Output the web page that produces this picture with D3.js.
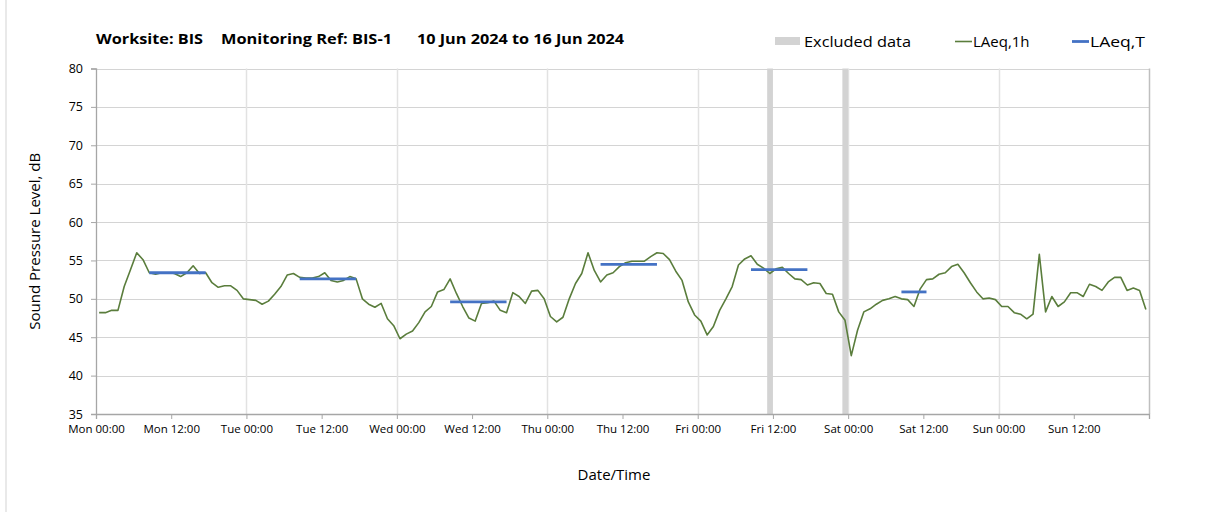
<!DOCTYPE html>
<html>
<head>
<meta charset="utf-8">
<script src="https://cdn.jsdelivr.net/npm/d3@7"></script>
<style>
  html, body { margin: 0; padding: 0; background: #fff; }
  svg { display: block; }
  text { font-family: "Open Sans", "Noto Sans", sans-serif; fill: #000; }
</style>
</head>
<body>
<svg id="chart" width="1208" height="512"></svg>
<script>
// Hourly LAeq,1h values, Mon 00:00 .. Sun 23:00 (168 hours)
const laeq1h = [
  // Mon
  48.2, 48.2, 48.5, 48.5, 51.6, 53.8, 56.0, 55.1, 53.4, 53.2, 53.4, 53.4,
  53.3, 52.9, 53.4, 54.3, 53.3, 53.4, 52.1, 51.5, 51.7, 51.7, 51.1, 50.0,
  // Tue
  49.9, 49.8, 49.3, 49.7, 50.6, 51.6, 53.1, 53.3, 52.8, 52.7, 52.7, 52.9,
  53.4, 52.4, 52.2, 52.4, 52.9, 52.6, 50.0, 49.3, 48.9, 49.4, 47.4, 46.5,
  // Wed
  44.8, 45.4, 45.8, 46.9, 48.3, 49.0, 50.9, 51.2, 52.6, 50.7, 49.0, 47.5,
  47.1, 49.4, 49.5, 49.7, 48.5, 48.2, 50.8, 50.3, 49.4, 51.0, 51.1, 50.0,
  // Thu
  47.7, 47.0, 47.6, 50.0, 52.0, 53.3, 56.0, 53.7, 52.2, 53.1, 53.4, 54.2,
  54.7, 54.9, 54.9, 54.9, 55.5, 56.0, 55.9, 55.1, 53.6, 52.4, 49.6, 47.9,
  // Fri
  47.1, 45.3, 46.4, 48.5, 50.0, 51.6, 54.4, 55.2, 55.6, 54.5, 54.0, 53.3,
  53.9, 54.1, 53.3, 52.6, 52.5, 51.8, 52.1, 52.0, 50.7, 50.6, 48.3, 47.2,
  // Sat
  42.6, 45.9, 48.3, 48.7, 49.3, 49.8, 50.0, 50.3, 50.0, 49.9, 49.0, 51.3,
  52.5, 52.6, 53.2, 53.4, 54.2, 54.5, 53.4, 52.1, 50.9, 50.0, 50.1, 49.9,
  // Sun
  49.0, 49.0, 48.2, 48.0, 47.4, 48.0, 55.8, 48.3, 50.3, 49.0, 49.6, 50.8,
  50.8, 50.3, 51.9, 51.6, 51.1, 52.2, 52.8, 52.8, 51.1, 51.4, 51.1, 48.6
];

// LAeq,T period levels: start hour index, end hour index (inclusive), level
const periodStart = [8, 32, 56, 80, 104, 128];
const periodEnd   = [17, 41, 65, 89, 113, 132];
const periodLevel = [53.4, 52.6, 49.6, 54.5, 53.8, 50.9];

// Hours flagged as excluded data
const excludedHours = [107, 119];

// Axis labels
const dayNames = ["Mon", "Tue", "Wed", "Thu", "Fri", "Sat", "Sun"];
const yTicks = [35, 40, 45, 50, 55, 60, 65, 70, 75, 80];
const xTickHours = d3.range(0, 169, 12);
const xLabelHours = d3.range(0, 168, 12);

const svg = d3.select("#chart");

const plot = { left: 96, right: 1149, top: 68.5, bottom: 414 };

const x = d3.scaleLinear().domain([0, 168]).range([plot.left, plot.right]);
const y = d3.scaleLinear().domain([35, 80]).range([plot.bottom, plot.top]);

// outer frame edge
svg.append("line")
  .attr("x1", 6).attr("x2", 6).attr("y1", 0).attr("y2", 512)
  .attr("stroke", "#e2e2e2").attr("stroke-width", 1.5);

// horizontal gridlines
svg.append("g").selectAll("line").data(yTicks.filter(v => v > 35)).join("line")
  .attr("x1", plot.left).attr("x2", plot.right)
  .attr("y1", d => Math.round(y(d)) + 0.5).attr("y2", d => Math.round(y(d)) + 0.5)
  .attr("stroke", "#d4d4d4").attr("stroke-width", 1.2);

// vertical day gridlines
svg.append("g").selectAll("line").data(d3.range(24, 168, 24)).join("line")
  .attr("x1", d => Math.round(x(d)) + 0.5).attr("x2", d => Math.round(x(d)) + 0.5)
  .attr("y1", plot.top).attr("y2", plot.bottom)
  .attr("stroke", "#e2e2e2").attr("stroke-width", 1.5);

// excluded data bands
const hourW = x(1) - x(0);
svg.append("g").selectAll("rect").data(excludedHours).join("rect")
  .attr("x", d => x(d) + 0.5).attr("width", hourW - 0.5)
  .attr("y", plot.top).attr("height", plot.bottom - plot.top)
  .attr("fill", "#d3d3d3");

// right plot border
svg.append("line")
  .attr("x1", plot.right + 0.5).attr("x2", plot.right + 0.5)
  .attr("y1", plot.top).attr("y2", plot.bottom)
  .attr("stroke", "#bfbfbf").attr("stroke-width", 1.5);

// y axis
const yAxis = d3.axisLeft(y).tickValues(yTicks).tickSize(5).tickPadding(8);
const gy = svg.append("g").attr("transform", `translate(${plot.left},0)`).call(yAxis);
gy.select(".domain").attr("stroke", "#a6a6a6").attr("stroke-width", 1.3);
gy.selectAll(".tick line").attr("stroke", "#a6a6a6");
gy.selectAll(".tick text").attr("font-size", 12.5).attr("font-family", "Open Sans, sans-serif").attr("fill", "#222");

// x axis
const xAxis = d3.axisBottom(x).tickValues(xTickHours).tickSize(5).tickPadding(6)
  .tickFormat(d => xLabelHours.includes(d) ? `${dayNames[Math.floor(d / 24)]} ${d % 24 === 0 ? "00" : "12"}:00` : "");
const gx = svg.append("g").attr("transform", `translate(0,${plot.bottom})`).call(xAxis);
gx.select(".domain").attr("stroke", "#a6a6a6").attr("stroke-width", 1.3);
gx.selectAll(".tick line").attr("stroke", "#a6a6a6");
gx.selectAll(".tick text").attr("font-size", 11.5).attr("font-family", "Open Sans, sans-serif").attr("fill", "#222");

// LAeq,1h line
const line = d3.line().x((d, i) => x(i + 0.5)).y(d => y(d));
svg.append("path").datum(laeq1h)
  .attr("d", line).attr("fill", "none")
  .attr("stroke", "#5a7d3c").attr("stroke-width", 1.6).attr("stroke-linejoin", "round");

// LAeq,T period lines
svg.append("g").selectAll("line").data(periodLevel).join("line")
  .attr("x1", (d, i) => x(periodStart[i] + 0.5))
  .attr("x2", (d, i) => x(periodEnd[i] + 0.5))
  .attr("y1", d => y(d)).attr("y2", d => y(d))
  .attr("stroke", "#4472c4").attr("stroke-width", 2.8);

// title
const title = svg.append("g").attr("font-weight", "bold").attr("font-size", 14.5);
title.append("text").attr("x", 96).attr("y", 44)
  .attr("textLength", 107).attr("lengthAdjust", "spacingAndGlyphs").text("Worksite: BIS");
title.append("text").attr("x", 221).attr("y", 44)
  .attr("textLength", 171).attr("lengthAdjust", "spacingAndGlyphs").text("Monitoring Ref: BIS-1");
title.append("text").attr("x", 417).attr("y", 44)
  .attr("textLength", 207).attr("lengthAdjust", "spacingAndGlyphs").text("10 Jun 2024 to 16 Jun 2024");

// legend
const leg = svg.append("g").attr("font-size", 15);
leg.append("rect").attr("x", 775).attr("y", 37).attr("width", 25).attr("height", 8).attr("fill", "#d3d3d3");
leg.append("text").attr("x", 804).attr("y", 47)
  .attr("textLength", 107).attr("lengthAdjust", "spacingAndGlyphs").text("Excluded data");
leg.append("line").attr("x1", 955).attr("x2", 972).attr("y1", 41.5).attr("y2", 41.5)
  .attr("stroke", "#5a7d3c").attr("stroke-width", 1.6);
leg.append("text").attr("x", 973).attr("y", 47).text("LAeq,1h");
leg.append("line").attr("x1", 1072).attr("x2", 1089).attr("y1", 41.5).attr("y2", 41.5)
  .attr("stroke", "#4472c4").attr("stroke-width", 2.8);
leg.append("text").attr("x", 1090).attr("y", 47)
  .attr("textLength", 55).attr("lengthAdjust", "spacingAndGlyphs").text("LAeq,T");

// axis titles
svg.append("text")
  .attr("transform", `translate(40,${(plot.top + plot.bottom) / 2}) rotate(-90)`)
  .attr("text-anchor", "middle").attr("font-size", 15).attr("fill", "#222")
  .text("Sound Pressure Level, dB");
svg.append("text")
  .attr("x", 614).attr("y", 480).attr("text-anchor", "middle").attr("font-size", 15).attr("fill", "#222")
  .text("Date/Time");
</script>
</body>
</html>
